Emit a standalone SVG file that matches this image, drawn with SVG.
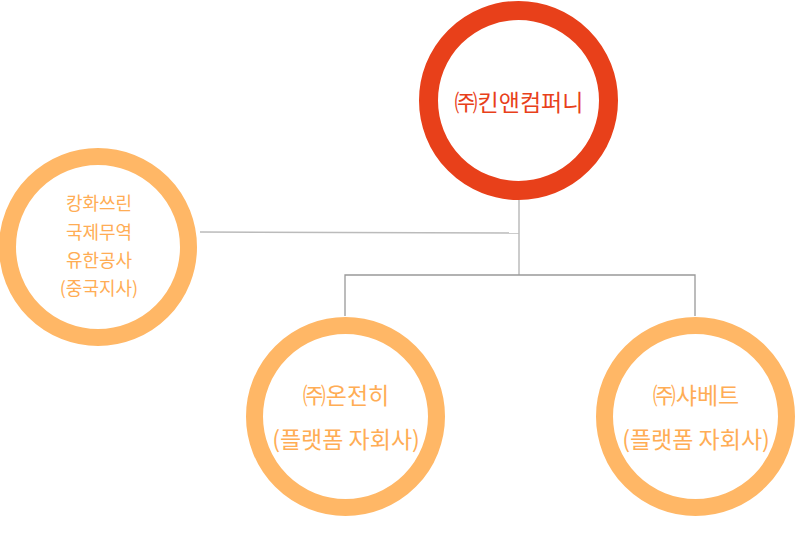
<svg xmlns="http://www.w3.org/2000/svg" width="796" height="539" viewBox="0 0 796 539">
<style>
.ring{fill:#fff;}
.red{stroke:#E8401A;stroke-width:19;}
.org{stroke:#FFB766;stroke-width:17;}
.t{font-family:"Noto Sans CJK KR","Noto Sans",sans-serif;text-anchor:middle;}
.tr{fill:#E8401A;font-size:23px;}
.to{fill:#FFAD55;font-size:23px;}
.ts{fill:#FFAD55;font-size:18px;}
.ln{fill:none;stroke:#999;stroke-width:1.3;}
.lnl{fill:none;stroke:#bbb;stroke-width:1.5;}
</style>
<rect width="796" height="539" fill="#fff"/>
<g id="connectors">
<path class="lnl" d="M519,200 V275"/>
<path class="lnl" d="M200,232 L519,233"/>
<path class="ln" d="M345,316 V275 H695 V316"/>
</g>
<g id="kinn">
<circle class="ring red" cx="518.5" cy="100.5" r="90"/>
<text class="t tr" x="519" y="111">㈜킨앤컴퍼니</text>
</g>
<g id="kanghwa">
<circle class="ring org" cx="98" cy="247" r="90.5"/>
<text class="t ts" x="99" y="210">캉화쓰린</text>
<text class="t ts" x="99" y="238.5">국제무역</text>
<text class="t ts" x="99" y="267">유한공사</text>
<text class="t ts" x="99" y="295">(중국지사)</text>
</g>
<g id="onjeonhi">
<circle class="ring org" cx="345.5" cy="416.5" r="91"/>
<text class="t to" x="346" y="404">㈜온전히</text>
<text class="t to" x="346" y="448">(플랫폼 자회사)</text>
</g>
<g id="sherbet">
<circle class="ring org" cx="695.5" cy="416.5" r="91"/>
<text class="t to" x="696" y="404">㈜샤베트</text>
<text class="t to" x="696" y="448">(플랫폼 자회사)</text>
</g>
</svg>
